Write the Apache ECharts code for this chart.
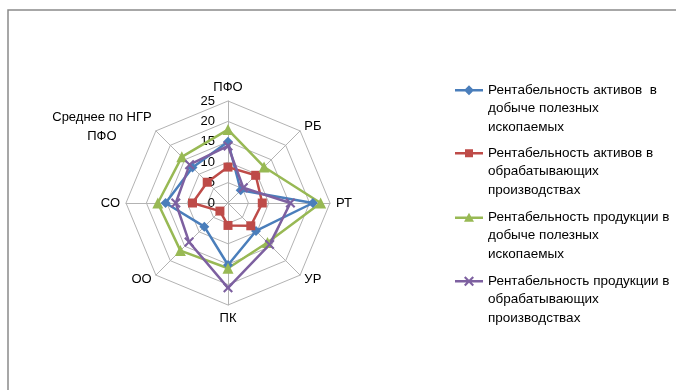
<!DOCTYPE html>
<html><head><meta charset="utf-8">
<script src="https://cdn.jsdelivr.net/npm/echarts@6/dist/echarts.min.js"></script>
<style>html,body{margin:0;padding:0;background:#fff}#c{width:676px;height:390px}</style>
</head><body><div id="c"></div>
<script>
// Categories in Excel order (clockwise from top)
const categories = ['ПФО', 'РБ', 'РТ', 'УР', 'ПК', 'ОО', 'СО', 'Среднее по НГР\nПФО'];
const seriesNames = [
  'Рентабельность активов  в\nдобыче полезных\nископаемых',
  'Рентабельность активов в\nобрабатывающих\nпроизводствах',
  'Рентабельность продукции в\nдобыче полезных\nископаемых',
  'Рентабельность продукции в\nобрабатывающих\nпроизводствах'
];
const assetsMining   = [15.0, 4.4, 20.8, 9.7, 15.2, 8.2, 15.3, 12.3];
const assetsManuf    = [8.8, 9.6, 8.4, 7.9, 5.5, 2.8, 8.7, 7.2];
const productMining  = [18.0, 12.5, 22.7, 13.7, 16.0, 16.5, 17.2, 16.0];
const productManuf   = [14.0, 5.3, 15.3, 14.4, 20.8, 13.5, 12.8, 13.3];
const axisMax = 25;
const tickStep = 5;

// ECharts radar goes counter-clockwise; reorder to keep Excel's clockwise layout
const ecOrder = [0, 7, 6, 5, 4, 3, 2, 1];
const reorder = arr => ecOrder.map(i => arr[i]);

const colors = ['#4A7EBB', '#BE4B48', '#98B954', '#7D60A0'];
const xPath = 'path://M0,1.5L1.5,0L5,3.5L8.5,0L10,1.5L6.5,5L10,8.5L8.5,10L5,6.5L1.5,10L0,8.5L3.5,5z';
const symbols = ['diamond', 'rect', 'triangle', xPath];
const symbolSizes = [10, 9, 11, 10];
const legendIcons = [
  'path://M0,3.75h28v2.5H0z M14,0L19,5L14,10L9,5z',
  'path://M0,3.75h28v2.5H0z M10,1h8v8h-8z',
  'path://M0,3.75h28v2.5H0z M14,0L19,9H9z',
  'path://M0,3.75h28v2.5H0z M9,1.5L10.5,0L14,3.5L17.5,0L19,1.5L15.5,5L19,8.5L17.5,10L14,6.5L10.5,10L9,8.5L12.5,5z'
];
const allValues = [assetsMining, assetsManuf, productMining, productManuf];

const FONT = 'Liberation Sans';
const indicator = reorder(categories).map((n, k) => {
  const ind = { name: n, min: 0, max: axisMax };
  if (k === 0) ind.axisLabel = { show: true };
  return ind;
});

const legendTops = [44, 107, 171, 235];
const legends = seriesNames.map((n, i) => ({
  left: 455, top: legendTops[i], orient: 'vertical', padding: 0,
  itemWidth: 28, itemHeight: 10, selectedMode: false,
  data: [{ name: n, icon: legendIcons[i] }],
  formatter: name => '\n\n' + name,
  textStyle: { fontFamily: FONT, fontSize: 13.5, color: '#000', lineHeight: 18.5 }
}));

const chart = echarts.init(document.getElementById('c'));
chart.setOption({
  animation: false,
  backgroundColor: '#fff',
  color: colors,
  graphic: [{
    type: 'rect', shape: { x: 8, y: 10, width: 720, height: 420 },
    style: { fill: 'none', stroke: '#8a8a8a', lineWidth: 1.5 }, silent: true
  }],
  legend: legends,
  radar: {
    center: [228, 203], radius: 102, shape: 'polygon', splitNumber: axisMax / tickStep,
    indicator: indicator,
    axisName: {
      color: '#000', fontFamily: FONT, fontSize: 13, lineHeight: 15,
      formatter: name => name.indexOf('\n') >= 0
        ? name.split('\n').map(s => '{c|' + s + '}').join('\n') : name,
      rich: { c: { align: 'center', fontFamily: FONT, fontSize: 13, lineHeight: 19, color: '#000' } }
    },
    nameGap: 6,
    axisLine: { lineStyle: { color: '#b3b3b3', width: 1 } },
    splitLine: { lineStyle: { color: '#b3b3b3', width: 1 } },
    splitArea: { show: false },
    axisTick: { show: false },
    axisLabel: { show: false, color: '#000', fontFamily: FONT, fontSize: 13, margin: 13 }
  },
  series: [{
    type: 'radar',
    data: allValues.map((vals, i) => ({
      name: seriesNames[i],
      value: reorder(vals),
      symbol: symbols[i],
      symbolSize: symbolSizes[i],
      lineStyle: { color: colors[i], width: 2.5 },
      itemStyle: { color: colors[i] }
    }))
  }]
});
</script></body></html>
